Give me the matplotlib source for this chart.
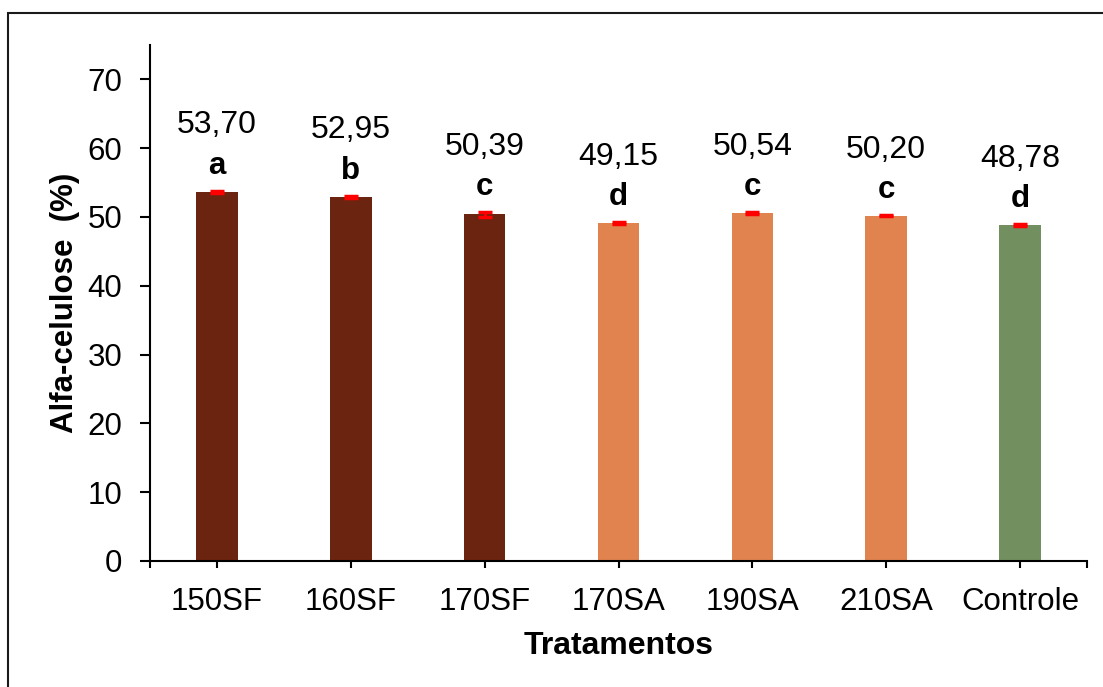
import matplotlib
matplotlib.use("Agg")
import matplotlib.pyplot as plt
from matplotlib.patches import Rectangle
import numpy as np

plt.rcParams['font.family'] = ['Liberation Sans', 'DejaVu Sans']

tratamentos = ['150SF', '160SF', '170SF', '170SA', '190SA', '210SA', 'Controle']
alfa = [53.70, 52.95, 50.39, 49.15, 50.54, 50.20, 48.78]
erro = [0.15, 0.15, 0.35, 0.15, 0.15, 0.12, 0.15]
letras = ['a', 'b', 'c', 'd', 'c', 'c', 'd']
cores = ['#6B2410', '#6B2410', '#6B2410', '#E0834F', '#E0834F', '#E0834F', '#728F60']

fs = 22.5

fig = plt.figure(figsize=(11.03, 6.87), dpi=100)
ax = fig.add_axes([150 / 1103, 1 - 561 / 687, 937 / 1103, 516 / 687])

x = np.arange(len(tratamentos))
ax.bar(x, alfa, width=0.31, color=cores, zorder=2)
ax.errorbar(x, alfa, yerr=erro, fmt='none', ecolor='#FF0000', elinewidth=2,
            capsize=5, capthick=2.5, zorder=3)

for i in range(len(x)):
    top = alfa[i] + erro[i]
    ax.annotate(f'{alfa[i]:.2f}'.replace('.', ','), (x[i], top), xytext=(0, 47),
                textcoords='offset points', ha='center', va='center', fontsize=23)
    ax.annotate(letras[i], (x[i], top), xytext=(0, 18), textcoords='offset points',
                ha='center', va='center', fontsize=fs, fontweight='bold')

ax.set_xlim(-0.5, len(x) - 0.5)
ax.set_ylim(0, 75)
ax.set_yticks(range(0, 71, 10))
ax.set_xticks(x)
ax.set_xticklabels(tratamentos)
ax.set_xticks([-0.5, len(x) - 0.5], minor=True)
ax.tick_params(axis='x', which='both', length=5, width=1.5, pad=14, labelsize=fs)
ax.tick_params(axis='y', length=7, width=1.5, pad=13, labelsize=fs)

for s in ['top', 'right']:
    ax.spines[s].set_visible(False)
for s in ['left', 'bottom']:
    ax.spines[s].set_linewidth(1.5)

ax.set_ylabel('Alfa-celulose  (%)', fontsize=fs, fontweight='bold', labelpad=5)
ax.set_xlabel('Tratamentos', fontsize=23, fontweight='bold', labelpad=10)

# moldura externa
fig.patches.append(Rectangle((8 / 1103, -0.05), 1.1, 1 - 13 / 687 + 0.05,
                             transform=fig.transFigure, fill=False,
                             edgecolor='#1a1a1a', linewidth=1.5))

fig.savefig('out.png', dpi=100)
